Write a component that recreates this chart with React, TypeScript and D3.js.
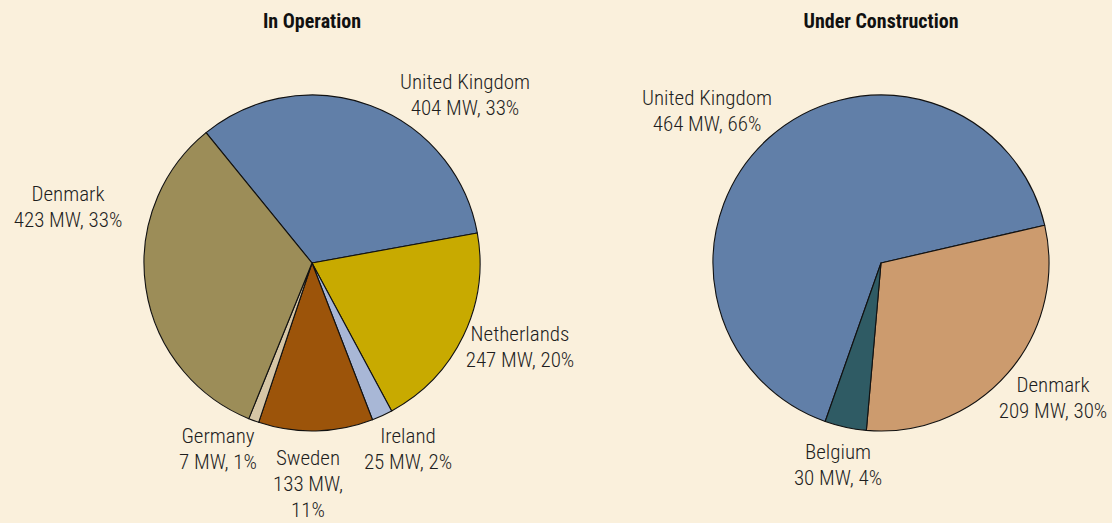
import React, { useRef, useEffect } from 'react';
import * as d3 from 'd3';

// In operation (slices are drawn from the rounded shares, as in the original)
const opCountries = ['United Kingdom', 'Netherlands', 'Ireland', 'Sweden', 'Germany', 'Denmark'];
const opMW = [404, 247, 25, 133, 7, 423];
const opPct = [33, 20, 2, 11, 1, 33];
const opColors = ['#617fa8', '#c8aa00', '#a8b7d6', '#9c540a', '#d6c6a6', '#9c8d58'];

// Under construction
const ucCountries = ['United Kingdom', 'Denmark', 'Belgium'];
const ucMW = [464, 209, 30];
const ucPct = [66, 30, 4];
const ucColors = ['#617fa8', '#cc9b6e', '#2f5b64'];

const W = 1112;
const H = 523;
const FONT = '"Liberation Sans Narrow", "Roboto Condensed", "Arial Narrow", sans-serif';

// label placement relative to pie centre (first line baseline)
const opLabelPos = [[153, -174], [208, 78], [96, 180], [-4, 202], [-94, 180], [-244, -62]];
const opLabelLines = [null, null, null, ['Sweden', '133 MW,', '11%'], null, null];
const ucLabelPos = [[-174, -158], [172, 129], [-43, 196]];

const App = () => {
    const svgRef = useRef(null);

    useEffect(() => {
        const svg = d3.select(svgRef.current);
        svg.selectAll('*').remove();

        svg.append('rect')
            .attr('width', W)
            .attr('height', H)
            .attr('fill', '#faf0dc');

        const r = 168;

        const drawPie = (cx, cy, title, names, vals, pcts, colors, start, labelPos, lines) => {
            const g = svg.append('g').attr('transform', `translate(${cx},${cy})`);
            const items = names.map((n, i) => ({ name: n, mw: vals[i], pct: pcts[i], color: colors[i], i }));
            const pie = d3.pie()
                .value(d => d.pct)
                .sort(null)
                .startAngle(start)
                .endAngle(start + 2 * Math.PI);
            const arc = d3.arc().innerRadius(0).outerRadius(r);

            g.selectAll('path.slice')
                .data(pie(items))
                .enter()
                .append('path')
                .attr('class', 'slice')
                .attr('d', arc)
                .attr('fill', d => d.data.color)
                .attr('stroke', '#111')
                .attr('stroke-width', 1.1)
                .attr('stroke-linejoin', 'round');

            svg.append('text')
                .attr('x', cx)
                .attr('y', 28)
                .attr('text-anchor', 'middle')
                .style('font-family', FONT)
                .style('font-weight', 'bold')
                .style('font-size', '20px')
                .attr('fill', '#111')
                .text(title);

            items.forEach((d, i) => {
                const ls = (lines && lines[i]) || [d.name, `${d.mw} MW, ${d.pct}%`];
                const t = g.append('text')
                    .attr('text-anchor', 'middle')
                    .style('font-family', FONT)
                    .style('font-size', '21px')
                    .style('font-weight', 300)
                    .attr('fill', '#1e1e1e');
                ls.forEach((s, k) => {
                    t.append('tspan')
                        .attr('x', labelPos[i][0])
                        .attr('y', labelPos[i][1] + k * 26)
                        .text(s);
                });
            });
        };

        drawPie(312, 263, 'In Operation', opCountries, opMW, opPct, opColors,
            -39.1 * Math.PI / 180, opLabelPos, opLabelLines);
        drawPie(881, 263, 'Under Construction', ucCountries, ucMW, ucPct, ucColors,
            -160.6 * Math.PI / 180, ucLabelPos, null);
    }, []);

    return (
        <svg ref={svgRef} width={W} height={H}
            style={{ position: 'absolute', left: 0, top: 0, display: 'block' }} />
    );
};

export default App;
